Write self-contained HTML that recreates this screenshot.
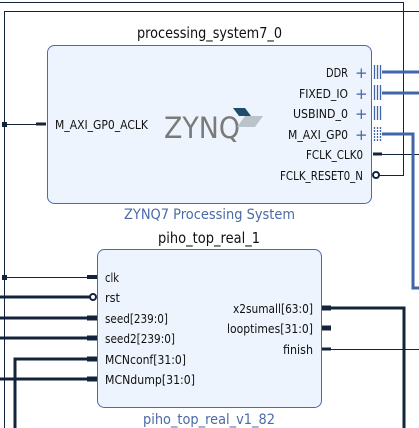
<!DOCTYPE html>
<html><head><style>
html,body{margin:0;padding:0;background:#fff;width:419px;height:428px;overflow:hidden}
svg text{font-family:"DejaVu Sans","Liberation Sans",sans-serif}
</style></head><body>
<svg width="419" height="428" viewBox="0 0 419 428" xmlns="http://www.w3.org/2000/svg">
<g stroke="#13233a" fill="none">
<polyline points="0,2.5 403.5,2.5 403.5,175.5 378,175.5" stroke-width="1"/>
<polyline points="4.5,428 4.5,11.5 419,11.5" stroke-width="1"/>
<line x1="4" y1="124.5" x2="45" y2="124.5" stroke-width="1"/>
<line x1="36" y1="124" x2="46" y2="124" stroke-width="3"/>
<line x1="375" y1="154.5" x2="419" y2="154.5" stroke-width="1"/>
<line x1="373" y1="154" x2="382" y2="154" stroke-width="3"/>
<line x1="4" y1="277.5" x2="97" y2="277.5" stroke-width="1"/>
<line x1="87" y1="277" x2="97" y2="277" stroke-width="4"/>
<line x1="0" y1="297" x2="92" y2="297" stroke-width="3"/>
<line x1="0" y1="318" x2="97" y2="318" stroke-width="3"/>
<line x1="87" y1="318" x2="97" y2="318" stroke-width="5"/>
<line x1="0" y1="338" x2="97" y2="338" stroke-width="3"/>
<line x1="87" y1="338" x2="97" y2="338" stroke-width="5"/>
<polyline points="15,428 15,359 97,359" stroke-width="3"/>
<line x1="87" y1="359" x2="97" y2="359" stroke-width="5"/>
<line x1="0" y1="379" x2="97" y2="379" stroke-width="3"/>
<line x1="87" y1="379" x2="97" y2="379" stroke-width="5"/>
<polyline points="322,308 404,308 404,428" stroke-width="3"/>
<line x1="322" y1="308" x2="331" y2="308" stroke-width="5"/>
<line x1="322" y1="328" x2="331" y2="328" stroke-width="5"/>
<line x1="331" y1="349.5" x2="419" y2="349.5" stroke-width="1"/>
<line x1="322" y1="349" x2="331" y2="349" stroke-width="3"/>
</g>
<rect x="2" y="122" width="5" height="5" fill="#13233a"/>
<rect x="2" y="275" width="5" height="5" fill="#13233a"/>
<circle cx="93" cy="297" r="3" fill="#fff" stroke="#13233a" stroke-width="2"/>
<circle cx="376" cy="175" r="3" fill="#fff" stroke="#13233a" stroke-width="2"/>
<g stroke="#4065a8" fill="none" stroke-width="3">
<line x1="382" y1="72" x2="419" y2="72"/>
<line x1="382" y1="93" x2="419" y2="93"/>
<polyline points="382,134 413,134 413,288 419,288"/>
</g>
<g stroke="#4065a8" stroke-width="1.3">
<line x1="374.5" y1="65" x2="374.5" y2="79"/><line x1="377.5" y1="65" x2="377.5" y2="79"/><line x1="380.5" y1="65" x2="380.5" y2="79"/>
<line x1="374.5" y1="85" x2="374.5" y2="100"/><line x1="377.5" y1="85" x2="377.5" y2="100"/><line x1="380.5" y1="85" x2="380.5" y2="100"/>
<line x1="374.5" y1="106" x2="374.5" y2="120"/><line x1="377.5" y1="106" x2="377.5" y2="120"/><line x1="380.5" y1="106" x2="380.5" y2="120"/>
<g stroke-dasharray="2,1"><line x1="374.5" y1="127" x2="374.5" y2="142"/><line x1="377.5" y1="127" x2="377.5" y2="142"/><line x1="380.5" y1="127" x2="380.5" y2="142"/></g>
</g>
<rect x="47.5" y="45.5" width="324" height="158" rx="7" fill="#eef4fd" stroke="#4a6aa8" stroke-width="1"/>
<rect x="97.5" y="249.5" width="224" height="158" rx="7" fill="#eef4fd" stroke="#4a6aa8" stroke-width="1"/>
<g font-size="15" fill="#111" lengthAdjust="spacingAndGlyphs">
<text x="137" y="38" textLength="145" lengthAdjust="spacingAndGlyphs">processing_system7_0</text>
<text x="158" y="243" textLength="102" lengthAdjust="spacingAndGlyphs">piho_top_real_1</text>
</g>
<g font-size="14" fill="#4a6aa8">
<text x="124" y="219" textLength="171" lengthAdjust="spacingAndGlyphs">ZYNQ7 Processing System</text>
<text x="143" y="424" textLength="132" lengthAdjust="spacingAndGlyphs">piho_top_real_v1_82</text>
</g>
<g font-size="12" fill="#111">
<text x="55" y="129" textLength="93" lengthAdjust="spacingAndGlyphs">M_AXI_GP0_ACLK</text>
<text x="326" y="77" textLength="22" lengthAdjust="spacingAndGlyphs">DDR</text>
<text x="299" y="98" textLength="49" lengthAdjust="spacingAndGlyphs">FIXED_IO</text>
<text x="293" y="118" textLength="55" lengthAdjust="spacingAndGlyphs">USBIND_0</text>
<text x="288" y="139" textLength="60" lengthAdjust="spacingAndGlyphs">M_AXI_GP0</text>
<text x="306" y="159" textLength="57" lengthAdjust="spacingAndGlyphs">FCLK_CLK0</text>
<text x="280" y="180" textLength="83" lengthAdjust="spacingAndGlyphs">FCLK_RESET0_N</text>
<text x="233" y="313" textLength="80" lengthAdjust="spacingAndGlyphs">x2sumall[63:0]</text>
<text x="227" y="333" textLength="86" lengthAdjust="spacingAndGlyphs">looptimes[31:0]</text>
<text x="283" y="354" textLength="30" lengthAdjust="spacingAndGlyphs">finish</text>
<text x="105" y="282" textLength="14" lengthAdjust="spacingAndGlyphs">clk</text>
<text x="105" y="302" textLength="15" lengthAdjust="spacingAndGlyphs">rst</text>
<text x="105" y="323" textLength="63" lengthAdjust="spacingAndGlyphs">seed[239:0]</text>
<text x="105" y="343" textLength="70" lengthAdjust="spacingAndGlyphs">seed2[239:0]</text>
<text x="105" y="364" textLength="81" lengthAdjust="spacingAndGlyphs">MCNconf[31:0]</text>
<text x="105" y="384" textLength="90" lengthAdjust="spacingAndGlyphs">MCNdump[31:0]</text>
</g>
<g fill="#4065a8" font-size="15">
<text x="355" y="78">+</text><text x="355" y="99">+</text><text x="355" y="119">+</text><text x="355" y="140">+</text>
</g>
<text x="164" y="138" font-size="29" fill="#7a7a7a" font-family="Liberation Sans,sans-serif" textLength="76" lengthAdjust="spacingAndGlyphs">ZYNQ</text>
<polygon points="233,108 245,108 251,116 239,116" fill="#1f4e6b"/>
<polygon points="245,116 263,116 255,127 237,127" fill="#b9c3c9"/>
</svg>
</body></html>
